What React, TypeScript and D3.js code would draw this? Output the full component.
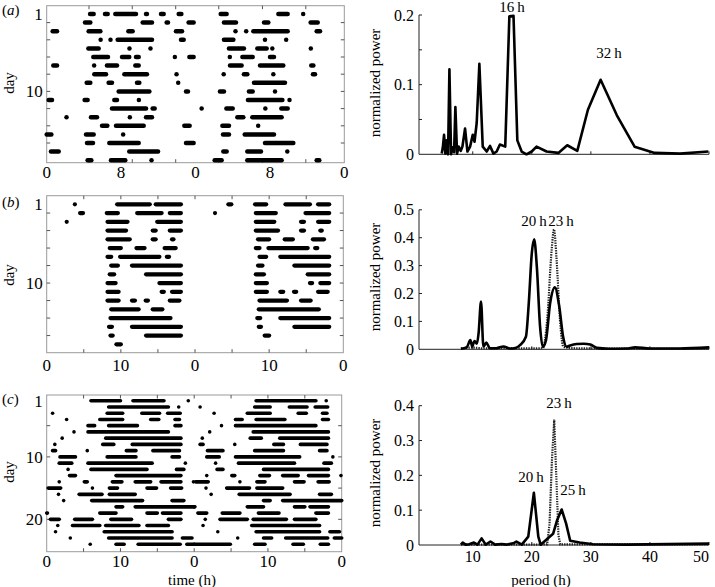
import React from 'react';
import * as d3 from 'd3';

// ---------- Actogram (a): bouts per row, hours within each half (half = 16 h)
const aLeft: number[][][] = [
  [[4.66,5.05],[6.27,6.56],[7.38,9.6],[10.68,10.78],[12.29,12.58],[14.19,14.48]],
  [[4.12,4.69],[10.32,11.32],[12.9,13.04],[15.26,15.8]],
  [[0.64,1.11],[4.51,5.77],[8.78,9.24],[13.9,14.55]],
  [[5.8,5.8],[6.86,6.86],[7.63,11.32],[14.44,14.73]],
  [[4.48,5.59],[8.9,8.9],[11.16,11.16]],
  [[5.01,6.59],[8.1,8.88],[9.6,9.89],[13.78,13.78],[15.34,15.8]],
  [[0.71,1.11],[5.1,5.1],[6.48,7.56],[9.53,9.89]],
  [[5.12,6.38],[8.35,10.78],[13.96,13.96]],
  [[4.3,4.69],[6.66,7.02],[9.71,9.96],[14.14,14.14]],
  [[7.74,11.04],[14.98,15.19]],
  [[0.21,0.57],[4.08,4.4],[7.27,7.56],[9.91,9.91]],
  [[7.02,10.68],[11.39,11.61]],
  [[2.13,2.13],[4.76,5.41],[8.94,8.94],[10.68,11.32]],
  [[5.95,6.52],[7.45,10.43],[14.8,15.37]],
  [[0,0.5],[4.23,5.05],[8.22,8.22]],
  [[4.33,4.98],[6.73,9.89],[14.98,15.8]],
  [[0.46,1.29],[8.88,11.97]],
  [[4.4,4.8],[6.91,8.45],[11.27,11.27]],
];
const aRight: number[][][] = [
  [[2.71,3.35],[8.91,9.91],[11.58,11.58]],
  [[3.06,4.35],[7.37,7.83],[12.38,13.14]],
  [[4.3,4.3],[5.45,5.45],[6.22,9.91],[13.03,13.39]],
  [[3.06,4.07],[7.47,7.47],[9.75,9.75]],
  [[3.6,5.21],[6.65,7.65],[8.26,8.26],[12.4,12.4]],
  [[3.69,3.69],[5.04,6.15],[8.01,8.44]],
  [[3.71,4.96],[6.94,9.44],[12.45,12.67]],
  [[3.03,3.03],[5.21,5.57],[8.37,8.37],[12.63,12.85]],
  [[6.29,9.62]],
  [[2.63,3.06],[5.75,6.15],[8.55,8.55]],
  [[5.64,9.34],[10.11,10.11]],
  [[0.66,0.66],[3.32,4.0],[7.51,7.51],[9.23,9.91]],
  [[4.5,5.14],[6.11,9.26]],
  [[2.89,3.6],[6.74,6.74]],
  [[2.96,3.6],[5.29,8.44]],
  [[7.47,10.52]],
  [[2.99,3.35],[5.57,7.04],[9.87,9.87]],
  [[2.06,2.81],[5.57,9.26],[13.03,13.31]],
];
const aTimeTicks = [4.55, 9.2, 13.87, 18.5, 23.2, 27.86];
const aTimeLabels = [[0,'0'],[8,'8'],[16,'0'],[24,'8'],[32,'0']];

// ---------- Actogram (b): bouts per day (double plotted), hours 0-20
const bDays: number[][][] = [
  [[3.8,3.8],[9.5,13.9],[14.7,18.1]],
  [[4.5,4.9],[8.1,9.6],[12.2,15.5],[16.6,18.1]],
  [[2.7,2.7],[8.2,10.9],[14.9,18.1]],
  [[8.2,10.7],[14.3,14.7],[16.6,18.1]],
  [[8.2,11.2],[14.3,14.7],[16.9,17.1]],
  [[8.5,10.0],[12.1,13.2],[15.9,17.4]],
  [[8.2,8.7],[9.9,15.2],[16.2,16.5]],
  [[8.7,9.6],[11.5,18.1]],
  [[8.5,9.1],[13.4,18.1]],
  [[8.2,9.3],[15.2,18.1]],
  [[8.2,9.7],[15.5,15.8],[16.9,18.1]],
  [[8.2,9.7],[11.5,11.9],[13.35,13.65],[16.6,17.9]],
  [[8.7,12.4],[14.3,15.6]],
  [[8.6,16.7]],
  [[8.4,8.8],[11.5,18.1]],
  [[8.6,8.9],[13.4,18.1]],
  [[9.4,10.0]],
  [],
];
const bTimeTicks = [5, 10, 15, 20, 25, 30, 35];
const bTimeLabels = [[0,'0'],[10,'10'],[20,'0'],[30,'10'],[40,'0']];

// ---------- Actogram (c): bouts per day (double plotted), hours 0-20
const cDays: number[][][] = [
  [[6.0,10.0],[11.7,15.9],[19.2,19.2]],
  [[8.4,16.5],[17.9,17.9]],
  [[0.8,0.8],[8.2,10.3],[12.9,15.3],[16.4,18.1]],
  [[2.7,2.7],[7.2,10.3],[14.1,15.2],[17.4,18.0]],
  [[5.6,6.5],[8.4,12.3],[17.4,18.2]],
  [[3.7,3.7],[5.6,16.5]],
  [[2.1,2.1],[8.0,18.2]],
  [[1.1,1.1],[7.6,9.1],[11.6,18.2]],
  [[0.8,1.2],[5.5,5.5],[10.8,12.1],[14.4,18.0]],
  [[1.8,3.9],[8.2,12.1],[17.0,18.0]],
  [[1.7,3.4],[5.6,14.3],[18.8,18.8]],
  [[2.9,2.9],[6.0,13.6],[17.6,18.6]],
  [[3.1,3.9],[9.4,18.2]],
  [[1.7,1.7],[5.1,5.5],[8.9,10.2],[12.0,14.1],[15.5,18.2],[19.9,19.9]],
  [[0.2,1.9],[6.2,6.2],[8.5,9.6],[13.6,14.9],[16.8,18.3]],
  [[1.6,1.6],[4.4,7.5],[8.5,12.0]],
  [[2.3,2.3],[6.1,13.0],[17.0,18.6]],
  [[9.4,10.3],[12.0,20]],
  [[0,0.1],[7.2,9.4],[13.6,15.0],[15.7,18.2]],
  [[0.5,1.7],[3.8,6.2],[8.7,11.5],[16.5,18.2]],
  [[1.5,1.5],[3.5,7.2],[8.0,12.5],[13.6,16.5]],
  [[1.2,1.2],[7.8,17.0]],
  [[3.2,3.2],[8.4,17.0],[18.4,19.7]],
  [[5.9,5.9],[9.4,10.5],[12.4,18.1],[19.0,20]],
  [[0,4.9],[8.2,9.6],[13.4,14.8],[17.1,18.2]],
];
const cTimeTicks = [5, 10, 15, 20, 25, 30, 35];
const cTimeLabels = [[0,'0'],[10,'10'],[20,'0'],[30,'10'],[40,'0']];

// ---------- Periodograms: [period (h), normalized power]
const powerA: number[][] = [
  [4.75,0.001],[4.92,0.009],[5.14,0.028],[5.37,0.001],[5.6,0.02],[5.82,0.0],[6.05,0.122],[6.33,0.0],
  [6.6,0.01],[6.84,0.003],[7.06,0.068],[7.34,0.001],[7.62,0.011],[7.97,0.005],[8.25,0.011],[8.7,0.037],
  [9.1,0.004],[9.55,0.011],[10.0,0.028],[10.3,0.018],[10.67,0.045],[11.12,0.13],[11.69,0.011],[12.36,0.004],
  [12.93,0.012],[13.5,0.001],[14.05,0.004],[14.6,0.014],[15.5,0.011],[16.2,0.198],[16.9,0.199],[17.55,0.02],
  [18.28,0.004],[19.1,0.0],[19.98,0.004],[20.8,0.011],[22.5,0.004],[24.5,0.002],[26.0,0.013],[27.7,0.005],
  [29.5,0.064],[31.65,0.107],[34.4,0.056],[37.4,0.011],[40.8,0.002],[45.1,0.001],[49.9,0.004],
];
const powerBSolid: number[][] = [
  [8.0,0.002],[9.0,0.008],[9.6,0.033],[9.9,0.01],[10.3,0.03],[10.7,0.02],[11.0,0.06],[11.4,0.171],
  [11.8,0.01],[12.3,0.024],[12.9,0.004],[14,0.004],[15.2,0.01],[16.3,0.003],[17.2,0.005],[18.0,0.015],
  [19.0,0.045],[19.5,0.17],[20.0,0.345],[20.4,0.394],[20.85,0.296],[21.4,0.081],[21.85,0.009],[22.4,0.033],
  [23.1,0.165],[23.9,0.222],[24.65,0.153],[25.3,0.045],[25.9,0.009],[26.5,0.014],[27.6,0.019],[28.8,0.02],
  [29.9,0.017],[31,0.005],[33,0.002],[36,0.003],[37.5,0.007],[40,0.003],[45,0.003],[50,0.007],
];
const powerBDotted: number[][] = [
  [8,0.003],[10,0.006],[12,0.003],[15,0.004],[20,0.003],[21.85,0.004],[22.6,0.105],[23.36,0.356],[23.76,0.43],
  [24.2,0.32],[24.77,0.105],[25.35,0.009],[27,0.004],[30,0.003],[40,0.002],[50,0.002],
];
const powerCSolid: number[][] = [
  [8.0,0.001],[8.3,0.007],[8.8,0.001],[9.4,0.002],[10.2,0.007],[10.8,0.001],[11.5,0.019],[12.2,0.001],
  [13.0,0.01],[13.8,0.001],[14.9,0.003],[15.7,0.001],[17.0,0.006],[17.4,0.01],[18.3,0.001],[19.4,0.024],
  [20.35,0.15],[21.1,0.024],[21.5,0.001],[22.5,0.016],[23.6,0.032],[24.3,0.072],[25.05,0.102],[25.8,0.062],
  [26.5,0.012],[28.1,0.007],[30.4,0.002],[36,0.001],[50,0.004],
];
const powerCDotted: number[][] = [
  [8,0.001],[20,0.001],[22.6,0.002],[23.0,0.06],[23.4,0.24],[23.8,0.36],[24.1,0.22],[24.5,0.03],
  [24.8,0.002],[30,0.002],[50,0.002],
];
const periodTicks = [10, 20, 30, 40, 50];

const FONT = "'Liberation Serif', 'Times New Roman', Times, serif";

type Seg = { row: number; s: number; e: number };

function fromHalves(left: number[][][], right: number[][][], T: number): Seg[] {
  const out: Seg[] = [];
  left.forEach((bouts, i) => bouts.forEach(([s, e]) => out.push({ row: i + 1, s, e })));
  right.forEach((bouts, i) => bouts.forEach(([s, e]) => out.push({ row: i + 1, s: s + T, e: e + T })));
  return out;
}

function fromDays(days: number[][][], nRows: number, T: number): Seg[] {
  const out: Seg[] = [];
  for (let r = 1; r <= nRows; r++) {
    (days[r - 1] || []).forEach(([s, e]) => out.push({ row: r, s, e }));
    (days[r] || []).forEach(([s, e]) => out.push({ row: r, s: s + T, e: e + T }));
  }
  return out;
}

function Actogram(props: {
  segs: Seg[]; T: number; x0: number; x1: number; yTop: number; yBot: number;
  r1y: number; rNy: number; nRows: number; bar: number; timeTicks: number[];
  timeLabels: any[]; dayTicks: number[]; dayLabels: number[]; labelY: number;
  tag: string; tagY: number; dayCy: number;
}) {
  const { segs, T, x0, x1, yTop, yBot, r1y, rNy, nRows, bar, timeTicks, timeLabels, dayTicks, dayLabels, labelY, tag, tagY, dayCy } = props;
  const x = d3.scaleLinear().domain([0, 2 * T]).range([x0, x1]);
  const y = d3.scaleLinear().domain([1, nRows]).range([r1y, rNy]);
  const tl = 3.5;
  return (
    <g>
      <rect x={x0} y={yTop} width={x1 - x0} height={yBot - yTop} fill="none" stroke="#9a9a9a" strokeWidth={1} />
      {timeTicks.map((t, i) => (
        <g key={'tt' + i} stroke="#555" strokeWidth={1}>
          <line x1={x(t)} x2={x(t)} y1={yTop} y2={yTop + tl} />
          <line x1={x(t)} x2={x(t)} y1={yBot} y2={yBot - tl} />
        </g>
      ))}
      {dayTicks.map((d, i) => (
        <g key={'dt' + i} stroke="#555" strokeWidth={1}>
          <line x1={x0} x2={x0 + tl} y1={y(d)} y2={y(d)} />
          <line x1={x1} x2={x1 - tl} y1={y(d)} y2={y(d)} />
        </g>
      ))}
      {segs.map((sg, i) => (
        <line key={'s' + i} x1={x(sg.s)} x2={x(sg.e)} y1={y(sg.row)} y2={y(sg.row)}
          stroke="#000" strokeWidth={bar} strokeLinecap="round" />
      ))}
      {dayLabels.map((d, i) => (
        <text key={'dl' + i} x={x0 - 4} y={y(d)} dy="0.35em" textAnchor="end" fontSize={17} fontFamily={FONT}>{d}</text>
      ))}
      {timeLabels.map(([v, s]: any, i: number) => (
        <text key={'xl' + i} x={x(v)} y={labelY} textAnchor="middle" fontSize={17} fontFamily={FONT}>{s}</text>
      ))}
      <text transform={`translate(14,${dayCy}) rotate(-90)`} textAnchor="middle" fontSize={15} fontFamily={FONT}>day</text>
      <text x={2} y={tagY} fontSize={15} fontFamily={FONT}>(<tspan fontStyle="italic">{tag}</tspan>)</text>
    </g>
  );
}

function Periodogram(props: {
  y0: number; yTopPx: number; yMax: number; ticks: number[]; labels: number[];
  solid: number[][]; dotted?: number[][]; smooth?: boolean; showX?: boolean;
  titleCy: number; peaks: { t: string; x: number; y: number }[];
}) {
  const { y0, yTopPx, yMax, ticks, labels, solid, dotted, smooth, showX, titleCy, peaks } = props;
  const x = d3.scaleLinear().domain([0.9, 50]).range([419, 709]);
  const y = d3.scaleLinear().domain([0, yMax]).range([y0, yTopPx]);
  const line = d3.line<number[]>().x(d => x(d[0])).y(d => y(d[1])).curve(smooth ? d3.curveMonotoneX : d3.curveLinear);
  const fmt = (v: number) => (v === 0 ? '0' : v.toFixed(1));
  return (
    <g>
      <line x1={x(0.9)} x2={x(0.9)} y1={y(0)} y2={y(yMax)} stroke="#222" strokeWidth={1} />
      <line x1={x(0.9)} x2={x(50)} y1={y(0)} y2={y(0)} stroke="#222" strokeWidth={1} />
      {ticks.map((t, i) => (
        <line key={'yt' + i} x1={x(0.9)} x2={x(0.9) + 3} y1={y(t)} y2={y(t)} stroke="#222" strokeWidth={1} />
      ))}
      {periodTicks.map((t, i) => (
        <line key={'xt' + i} x1={x(t)} x2={x(t)} y1={y(0)} y2={y(0) - 3} stroke="#222" strokeWidth={1} />
      ))}
      {labels.map((t, i) => (
        <text key={'yl' + i} x={414} y={y(t)} dy="0.35em" textAnchor="end" fontSize={16} fontFamily={FONT}>{fmt(t)}</text>
      ))}
      {showX && periodTicks.map((t, i) => (
        <text key={'xl' + i} x={x(t)} y={y0 + 17} textAnchor={t === 50 ? 'end' : 'middle'} fontSize={16} fontFamily={FONT}>{t}</text>
      ))}
      {dotted && (
        <path d={line(dotted) || ''} fill="none" stroke="#222" strokeWidth={2.2} strokeDasharray="1.4,1.1" />
      )}
      <path d={line(solid) || ''} fill="none" stroke="#000" strokeWidth={2.6} strokeLinejoin="round" />
      <text transform={`translate(380,${titleCy}) rotate(-90)`} textAnchor="middle" fontSize={15} fontFamily={FONT}>normalized power</text>
      {peaks.map((p, i) => (
        <text key={'pk' + i} x={p.x} y={p.y} textAnchor="middle" fontSize={15} fontFamily={FONT}>{p.t}</text>
      ))}
    </g>
  );
}

export default function App() {
  const segA = fromHalves(aLeft, aRight, 16);
  const segB = fromDays(bDays, 17, 20);
  const segC = fromDays(cDays, 24, 20);
  return (
    <svg width={715} height={587} style={{ position: 'absolute', left: 0, top: 0, background: '#fff' }}>
      <rect width={715} height={587} fill="#fff" />
      <Actogram segs={segA} T={16} x0={46.7} x1={344.3} yTop={5.7} yBot={162.7} r1y={14} rNy={160.2} nRows={18}
        bar={4.5} timeTicks={aTimeTicks} timeLabels={aTimeLabels} dayTicks={[2,4,6,8,10,12,14,16]} dayLabels={[1,10]}
        labelY={178} tag="a" tagY={15} dayCy={83} />
      <Actogram segs={segB} T={20} x0={46.7} x1={343.3} yTop={195.7} yBot={352.7} r1y={204.3} rNy={344.3} nRows={17}
        bar={4.2} timeTicks={bTimeTicks} timeLabels={bTimeLabels} dayTicks={[2,4,6,8,10,12,14,16]} dayLabels={[1,10]}
        labelY={371} tag="b" tagY={207} dayCy={275} />
      <Actogram segs={segC} T={20} x0={46.7} x1={341.7} yTop={395} yBot={551.7} r1y={400.7} rNy={544.3} nRows={24}
        bar={3.6} timeTicks={cTimeTicks} timeLabels={cTimeLabels} dayTicks={[5,10,15,20]} dayLabels={[1,10,20]}
        labelY={567} tag="c" tagY={404} dayCy={472} />
      <text x={192} y={585} textAnchor="middle" fontSize={15} fontFamily={FONT}>time (h)</text>

      <Periodogram y0={154.3} yTopPx={15} yMax={0.2} ticks={[0.05,0.1,0.15,0.2]} labels={[0,0.1,0.2]}
        solid={powerA} titleCy={83}
        peaks={[{ t: '16\u2009h', x: 512, y: 12 }, { t: '32\u2009h', x: 609, y: 58 }]} />
      <Periodogram y0={349.3} yTopPx={209.8} yMax={0.5} ticks={[0.1,0.2,0.3,0.4,0.5]} labels={[0,0.1,0.2,0.3,0.4,0.5]}
        solid={powerBSolid} dotted={powerBDotted} smooth titleCy={277}
        peaks={[{ t: '20\u2009h', x: 534, y: 226 }, { t: '23\u2009h', x: 561, y: 226 }]} />
      <Periodogram y0={545} yTopPx={405.7} yMax={0.4} ticks={[0.1,0.2,0.3,0.4]} labels={[0,0.1,0.2,0.3,0.4]}
        solid={powerCSolid} dotted={powerCDotted} showX titleCy={473}
        peaks={[{ t: '23\u2009h', x: 559, y: 408 }, { t: '20\u2009h', x: 531, y: 482 }, { t: '25\u2009h', x: 573, y: 495 }]} />
      <text x={541} y={585} textAnchor="middle" fontSize={15} fontFamily={FONT}>period (h)</text>
    </svg>
  );
}
